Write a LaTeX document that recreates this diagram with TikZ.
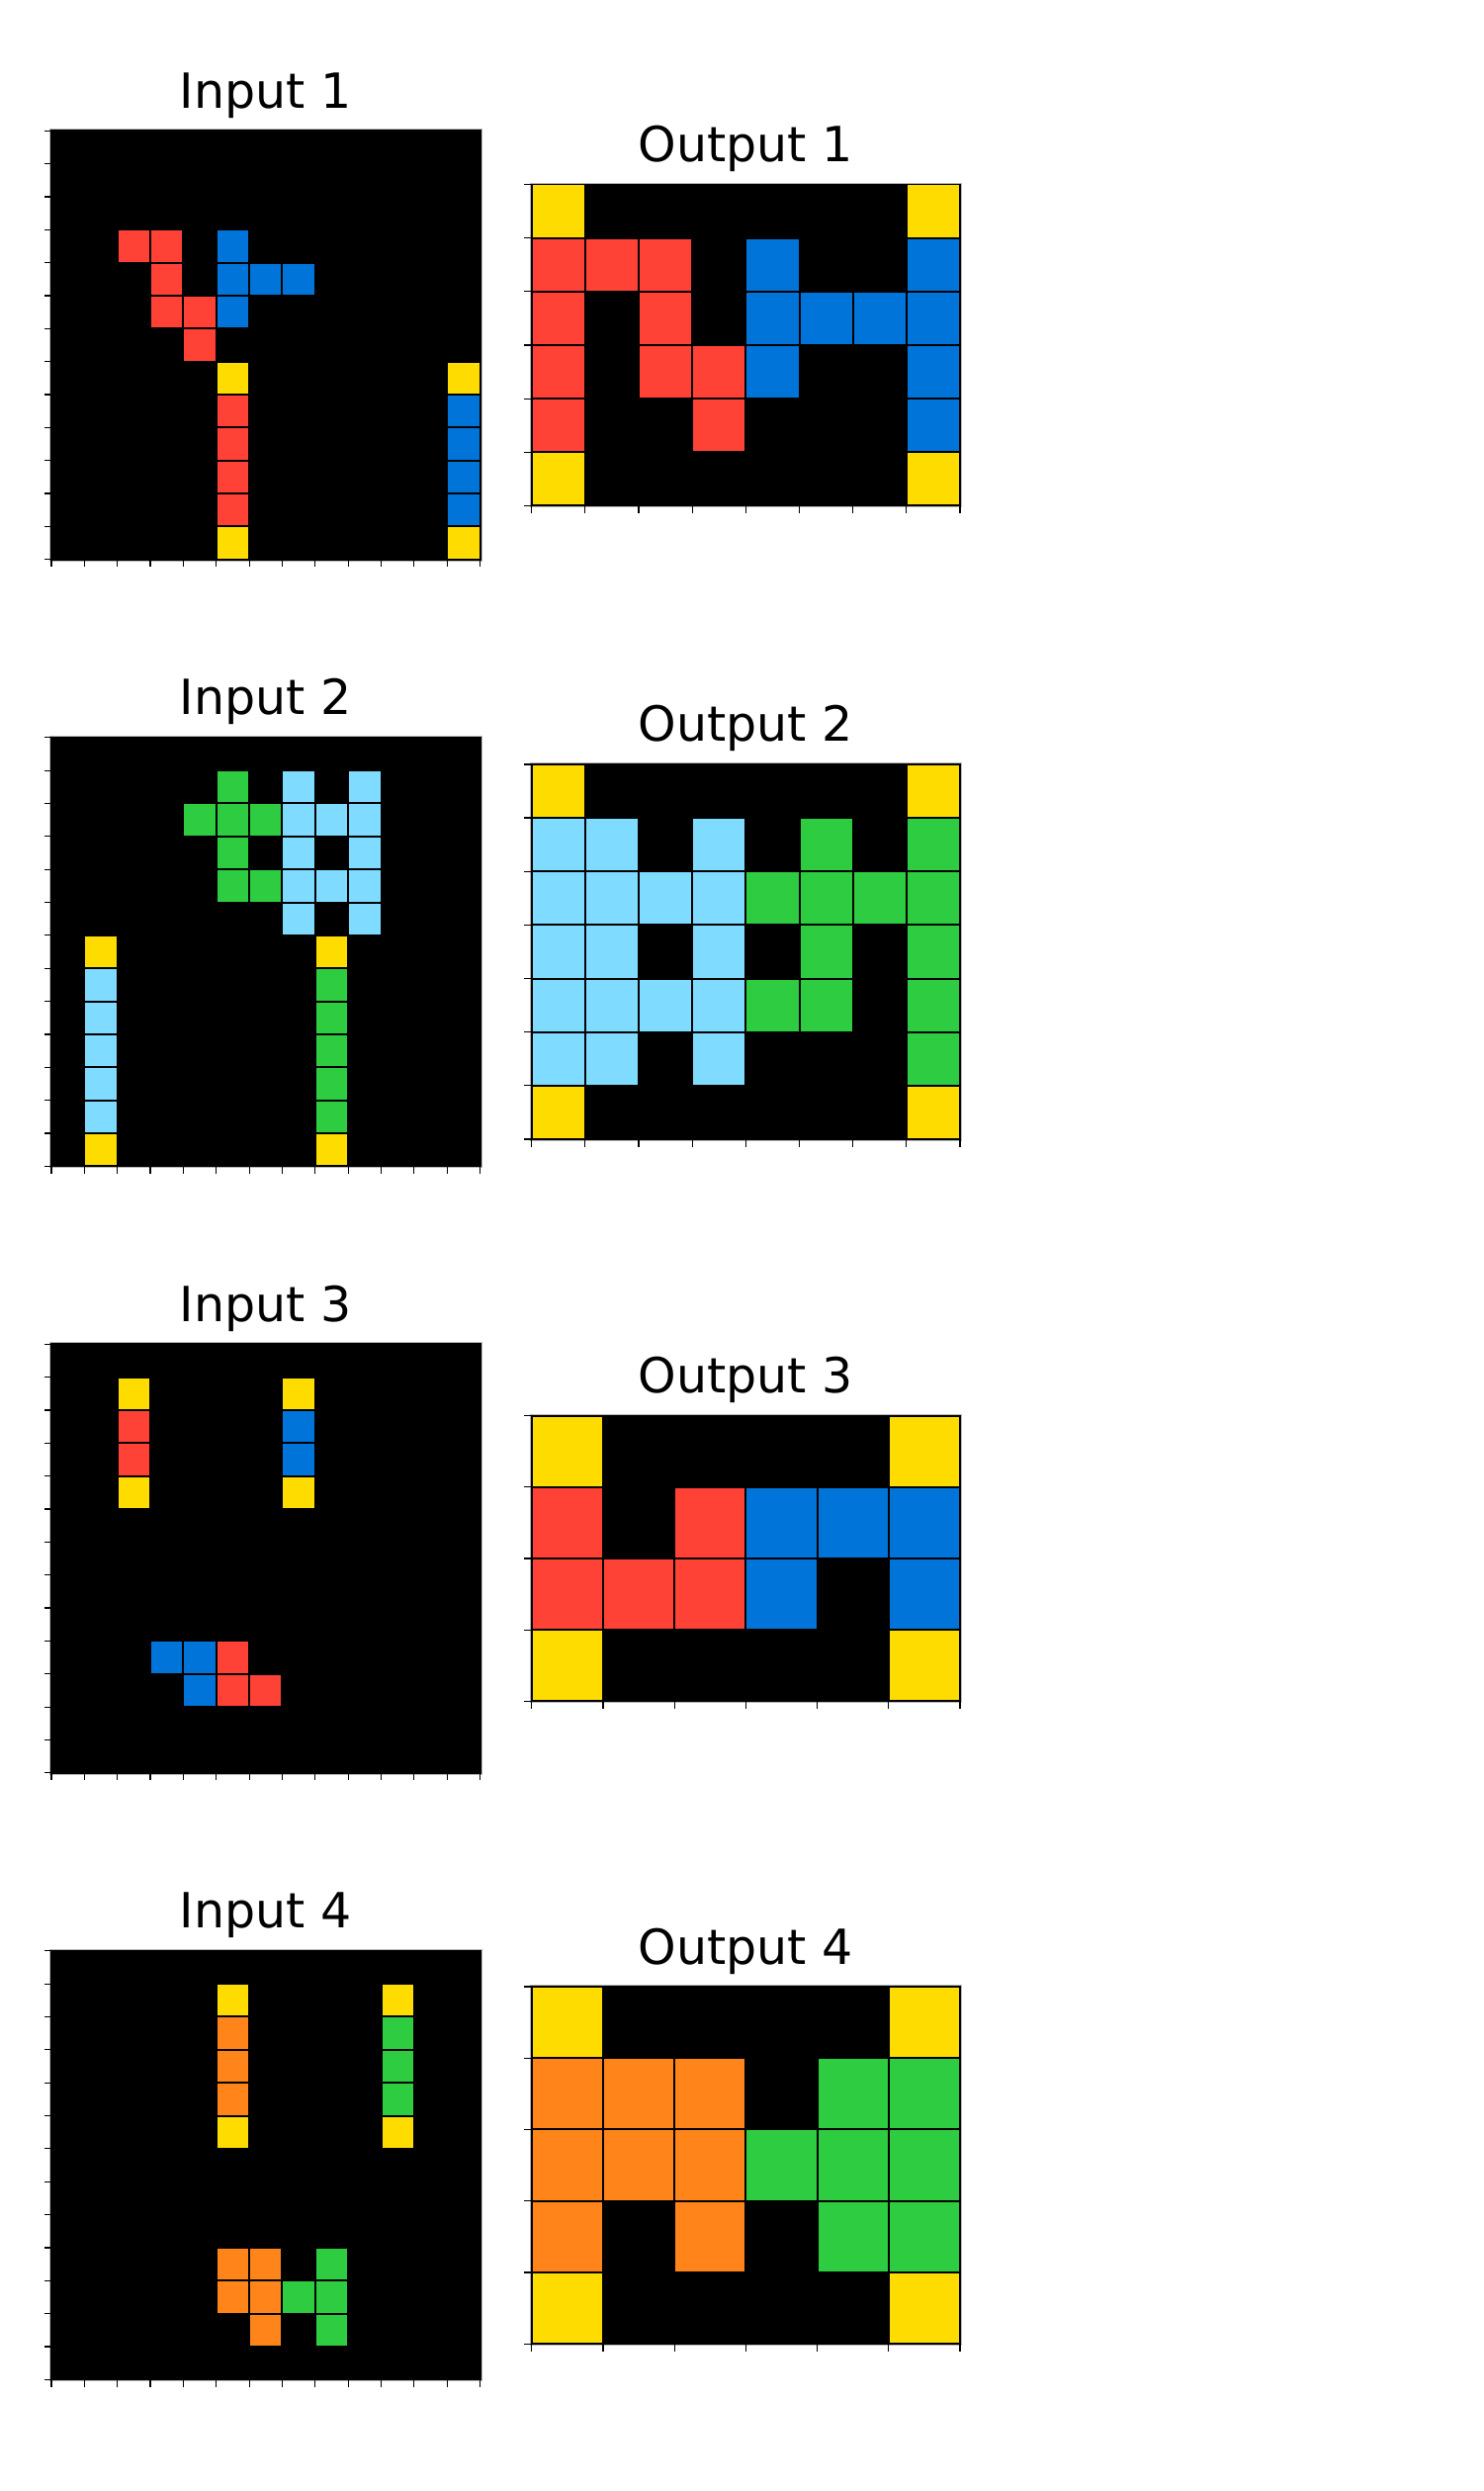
\documentclass[tikz,border=0pt]{standalone}
\usepackage{fontspec}
\setmainfont{DejaVu Sans}
\definecolor{arcblue}{HTML}{0074D9}
\definecolor{arcred}{HTML}{FF4136}
\definecolor{arcgreen}{HTML}{2ECC40}
\definecolor{arcyellow}{HTML}{FFDC00}
\definecolor{arcorange}{HTML}{FF851B}
\definecolor{arcsky}{HTML}{7FDBFF}

% #1 name, #2 title, #3 left, #4 top, #5 cell, #6 cols, #7 rows, #8 cells row/col/colour
\newcommand{\arcpanel}[8]{%
  \fill[black] (#3,#4) rectangle ++(#6*#5,#7*#5);
  \draw[cellline] (#3,#4) rectangle ++(#6*#5,#7*#5);
  \foreach \ri/\ci/\hue in {#8}
    \filldraw[fill=\hue,cellline] (#3+\ci*#5,#4+\ri*#5) rectangle ++(#5,#5);
  \draw[spine] (#3-1.4,#4-1.4) rectangle ++(#6*#5+2.8,#7*#5+2.8);
  \foreach \i in {0,...,#7}
    \draw[tick] (#3,#4+\i*#5) -- ++(-7.5,0);
  \foreach \j in {0,...,#6}
    \draw[tick] (#3+\j*#5,#4+#7*#5) -- ++(0,7.5);
  \node[title] (#1) at (#3+#6*#5/2,#4-23) {#2};
}

\begin{document}
\begin{tikzpicture}[x=0.5pt,y=-0.5pt]
  \tikzstyle{cellline}=[draw=black,line width=1pt]
  \tikzstyle{spine}=[draw=gray!55,line width=0.4pt]
  \tikzstyle{tick}=[draw=black,line width=0.6pt]
  \tikzstyle{title}=[anchor=base,inner sep=0pt,font=\fontsize{24.5pt}{29pt}\selectfont]
  \fill[white] (0,0) rectangle (1500,2519);
  \useasboundingbox (0,0) rectangle (1500,2519);

  % pair 1
  \arcpanel{in1}{Input 1}{52}{132.25}{33.35}{13}{13}{%
    3/2/arcred,3/3/arcred,3/5/arcblue,
    4/3/arcred,4/5/arcblue,4/6/arcblue,4/7/arcblue,
    5/3/arcred,5/4/arcred,5/5/arcblue,
    6/4/arcred,
    7/5/arcyellow,7/12/arcyellow,
    8/5/arcred,9/5/arcred,10/5/arcred,11/5/arcred,
    8/12/arcblue,9/12/arcblue,10/12/arcblue,11/12/arcblue,
    12/5/arcyellow,12/12/arcyellow}
  \arcpanel{out1}{Output 1}{537.7}{186.5}{54.16}{8}{6}{%
    0/0/arcyellow,0/7/arcyellow,
    1/0/arcred,1/1/arcred,1/2/arcred,1/4/arcblue,1/7/arcblue,
    2/0/arcred,2/2/arcred,2/4/arcblue,2/5/arcblue,2/6/arcblue,2/7/arcblue,
    3/0/arcred,3/2/arcred,3/3/arcred,3/4/arcblue,3/7/arcblue,
    4/0/arcred,4/3/arcred,4/7/arcblue,
    5/0/arcyellow,5/7/arcyellow}

  % pair 2
  \arcpanel{in2}{Input 2}{52}{745.75}{33.35}{13}{13}{%
    1/5/arcgreen,1/7/arcsky,1/9/arcsky,
    2/4/arcgreen,2/5/arcgreen,2/6/arcgreen,2/7/arcsky,2/8/arcsky,2/9/arcsky,
    3/5/arcgreen,3/7/arcsky,3/9/arcsky,
    4/5/arcgreen,4/6/arcgreen,4/7/arcsky,4/8/arcsky,4/9/arcsky,
    5/7/arcsky,5/9/arcsky,
    6/1/arcyellow,6/8/arcyellow,
    7/1/arcsky,8/1/arcsky,9/1/arcsky,10/1/arcsky,11/1/arcsky,
    7/8/arcgreen,8/8/arcgreen,9/8/arcgreen,10/8/arcgreen,11/8/arcgreen,
    12/1/arcyellow,12/8/arcyellow}
  \arcpanel{out2}{Output 2}{537.7}{772.9}{54.16}{8}{7}{%
    0/0/arcyellow,0/7/arcyellow,
    1/0/arcsky,1/1/arcsky,1/3/arcsky,1/5/arcgreen,1/7/arcgreen,
    2/0/arcsky,2/1/arcsky,2/2/arcsky,2/3/arcsky,2/4/arcgreen,2/5/arcgreen,2/6/arcgreen,2/7/arcgreen,
    3/0/arcsky,3/1/arcsky,3/3/arcsky,3/5/arcgreen,3/7/arcgreen,
    4/0/arcsky,4/1/arcsky,4/2/arcsky,4/3/arcsky,4/4/arcgreen,4/5/arcgreen,4/7/arcgreen,
    5/0/arcsky,5/1/arcsky,5/3/arcsky,5/7/arcgreen,
    6/0/arcyellow,6/7/arcyellow}

  % pair 3
  \arcpanel{in3}{Input 3}{52}{1359.25}{33.35}{13}{13}{%
    1/2/arcyellow,1/7/arcyellow,
    2/2/arcred,2/7/arcblue,3/2/arcred,3/7/arcblue,
    4/2/arcyellow,4/7/arcyellow,
    9/3/arcblue,9/4/arcblue,9/5/arcred,
    10/4/arcblue,10/5/arcred,10/6/arcred}
  \arcpanel{out3}{Output 3}{537.7}{1431.6}{72.22}{6}{4}{%
    0/0/arcyellow,0/5/arcyellow,
    1/0/arcred,1/2/arcred,1/3/arcblue,1/4/arcblue,1/5/arcblue,
    2/0/arcred,2/1/arcred,2/2/arcred,2/3/arcblue,2/5/arcblue,
    3/0/arcyellow,3/5/arcyellow}

  % pair 4
  \arcpanel{in4}{Input 4}{52}{1972.75}{33.35}{13}{13}{%
    1/5/arcyellow,1/10/arcyellow,
    2/5/arcorange,3/5/arcorange,4/5/arcorange,
    2/10/arcgreen,3/10/arcgreen,4/10/arcgreen,
    5/5/arcyellow,5/10/arcyellow,
    9/5/arcorange,9/6/arcorange,9/8/arcgreen,
    10/5/arcorange,10/6/arcorange,10/7/arcgreen,10/8/arcgreen,
    11/6/arcorange,11/8/arcgreen}
  \arcpanel{out4}{Output 4}{537.7}{2009}{72.22}{6}{5}{%
    0/0/arcyellow,0/5/arcyellow,
    1/0/arcorange,1/1/arcorange,1/2/arcorange,1/4/arcgreen,1/5/arcgreen,
    2/0/arcorange,2/1/arcorange,2/2/arcorange,2/3/arcgreen,2/4/arcgreen,2/5/arcgreen,
    3/0/arcorange,3/2/arcorange,3/4/arcgreen,3/5/arcgreen,
    4/0/arcyellow,4/5/arcyellow}
\end{tikzpicture}
\end{document}
